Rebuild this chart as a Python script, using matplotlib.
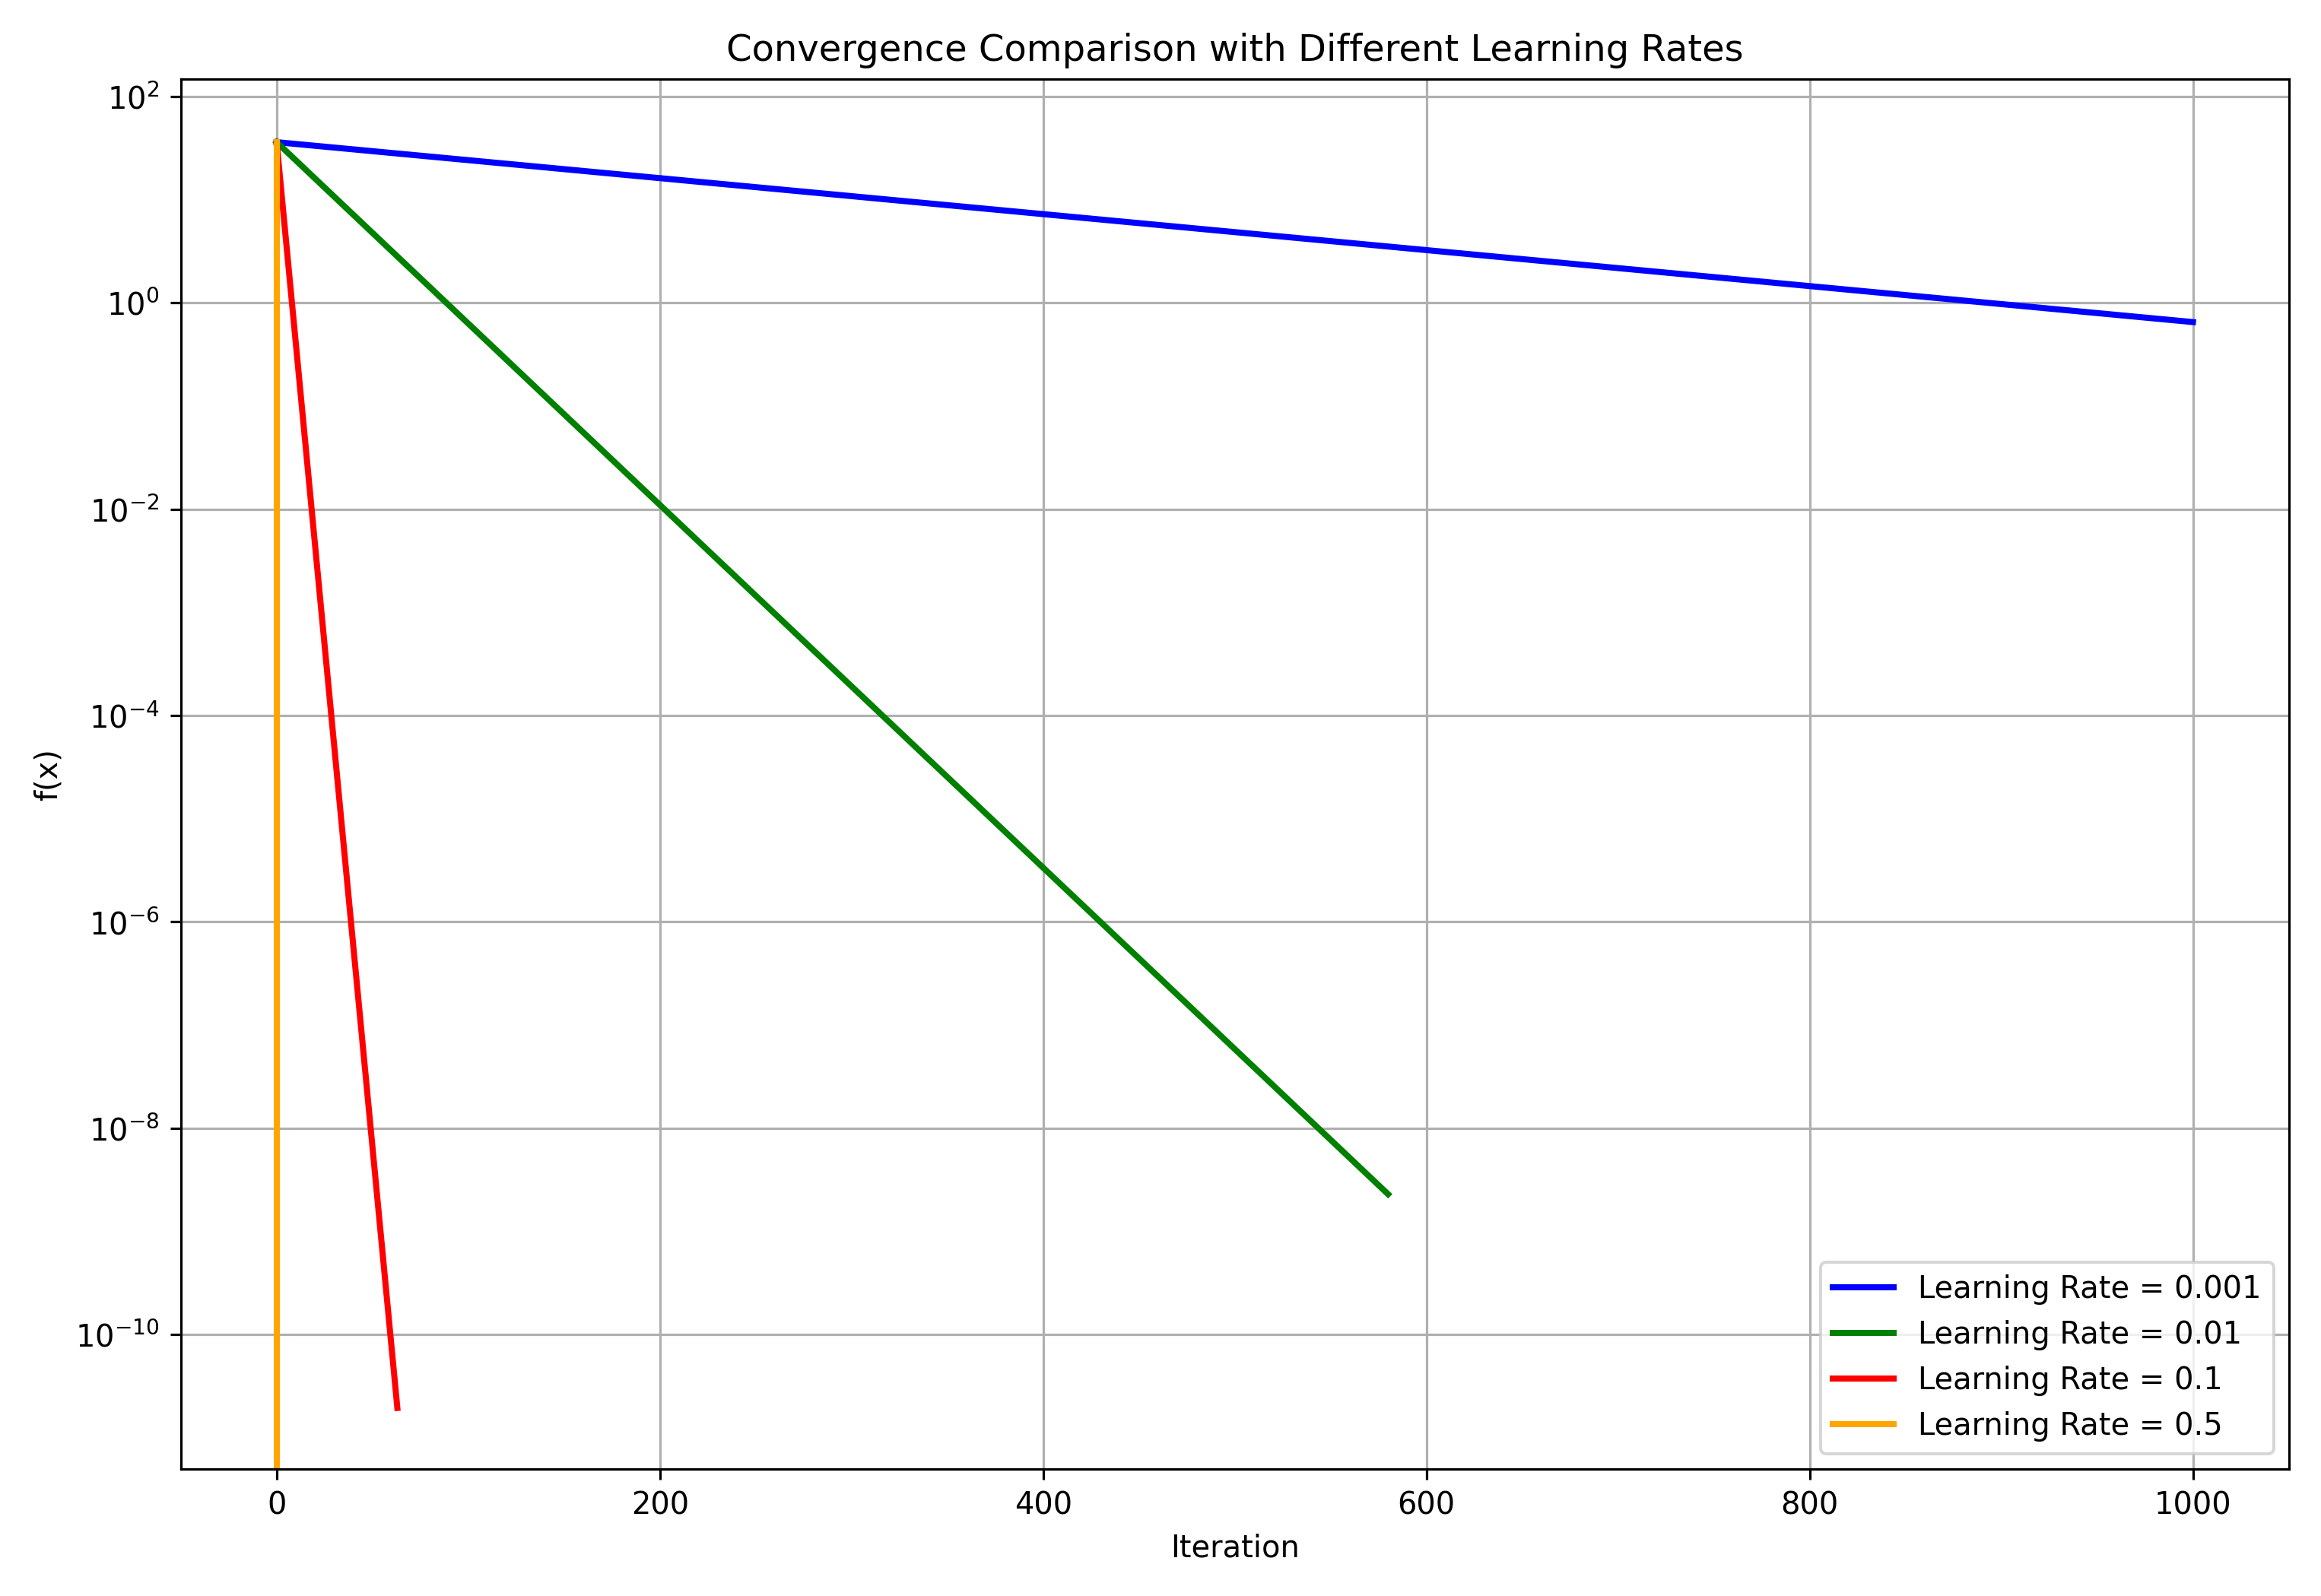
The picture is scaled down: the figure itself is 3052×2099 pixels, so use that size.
import numpy as np
import matplotlib.pyplot as plt

# endpoints (straight lines on the log axis)
labels = ['Learning Rate = 0.001', 'Learning Rate = 0.01',
          'Learning Rate = 0.1', 'Learning Rate = 0.5']
colors = ['blue', 'green', 'red', 'orange']
iters = [[0, 1000], [0, 580], [0, 63], [0, 0]]
fvals = [[36, 0.65], [36, 2.3e-9], [36, 1.95e-11], [36, 1e-20]]

fig, ax = plt.subplots(figsize=(10.6, 7.29), dpi=288)
for x, y, c, lab in zip(iters, fvals, colors, labels):
    ax.plot(x, y, color=c, lw=2, label=lab)

ax.set_yscale('log')
ax.set_ylim(10**-11.3, 10**2.17)
ax.set_xlim(-50, 1050)
ax.set_title('Convergence Comparison with Different Learning Rates')
ax.set_xlabel('Iteration')
ax.set_ylabel('f(x)')
ax.grid(True)
ax.legend(loc='lower right')
plt.tight_layout()
plt.savefig('out.png')
